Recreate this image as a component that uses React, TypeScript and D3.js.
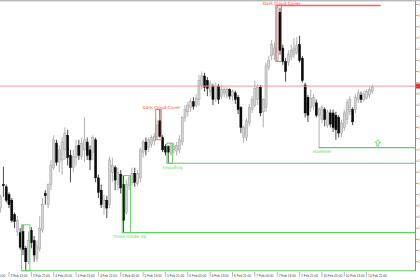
import React from "react";
import * as d3 from "d3";

const opens = [
  108.38, 108.59, 108.57, 108.50, 108.45, 108.32, 108.17, 108.16, 108.17, 108.02,
  107.90, 108.18, 108.09, 107.93, 108.02, 108.18, 108.51, 108.41, 108.59, 108.74,
  108.96, 108.79, 108.81, 108.90, 109.03, 108.85, 108.74, 108.83, 108.94, 108.84,
  108.90, 108.97, 108.90, 108.88, 108.99, 108.65, 108.54, 108.39, 108.45, 108.41,
  108.70, 108.74, 108.59, 108.68, 108.59, 108.34, 108.58, 108.61, 108.69, 108.60,
  108.65, 108.88, 108.97, 108.92, 108.95, 108.98, 109.01, 109.16, 109.01, 108.93,
  108.93, 108.87, 108.90, 108.89, 108.90, 108.97, 109.19, 109.24, 109.28, 109.33,
  109.30, 109.35, 109.48, 109.56, 109.52, 109.42, 109.47, 109.36, 109.47, 109.38,
  109.41, 109.39, 109.44, 109.38, 109.41, 109.37, 109.28, 109.01, 109.01, 109.14,
  109.26, 109.30, 109.35, 109.46, 109.24, 109.28, 109.64, 109.74, 109.75, 109.70,
  110.13, 109.81, 109.69, 109.68, 109.73, 109.75, 109.77, 109.84, 109.72, 109.48,
  109.37, 109.28, 109.29, 109.32, 109.21, 109.17, 109.26, 109.12, 109.23, 109.23,
  109.21, 109.19, 109.05, 109.10, 109.17, 109.24, 109.26, 109.26, 109.35, 109.39,
  109.35, 109.36, 109.39, 109.42,
];
const highs = [
  108.50, 108.75, 108.59, 108.52, 108.47, 108.34, 108.31, 108.20, 108.23, 108.04,
  108.17, 108.21, 108.13, 108.09, 108.31, 108.47, 108.54, 108.60, 108.81, 109.03,
  108.99, 108.94, 109.01, 109.10, 109.08, 108.90, 108.90, 108.99, 108.99, 109.01,
  109.19, 109.01, 108.94, 109.03, 109.01, 108.68, 108.59, 108.50, 108.49, 108.84,
  108.83, 108.76, 108.74, 108.72, 108.67, 108.63, 108.67, 108.74, 108.74, 108.72,
  108.92, 108.99, 109.01, 109.01, 109.03, 109.05, 109.17, 109.26, 109.03, 108.95,
  108.94, 108.96, 108.96, 108.97, 109.03, 109.20, 109.30, 109.33, 109.36, 109.37,
  109.40, 109.57, 109.60, 109.59, 109.55, 109.52, 109.49, 109.50, 109.49, 109.48,
  109.46, 109.46, 109.45, 109.44, 109.43, 109.39, 109.29, 109.12, 109.18, 109.31,
  109.38, 109.52, 109.49, 109.48, 109.36, 109.68, 109.74, 109.88, 109.86, 110.19,
  110.17, 109.84, 109.72, 109.79, 109.84, 109.90, 109.91, 109.92, 109.74, 109.50,
  109.39, 109.44, 109.40, 109.35, 109.28, 109.30, 109.28, 109.26, 109.26, 109.26,
  109.24, 109.21, 109.17, 109.26, 109.35, 109.38, 109.28, 109.40, 109.44, 109.42,
  109.43, 109.44, 109.46, 109.48,
];
const lows = [
  108.34, 108.48, 108.43, 108.38, 108.25, 108.20, 108.13, 108.01, 107.96, 107.82,
  107.88, 108.02, 107.90, 107.90, 107.99, 108.16, 108.41, 108.38, 108.54, 108.72,
  108.76, 108.70, 108.68, 108.81, 108.76, 108.61, 108.70, 108.76, 108.81, 108.81,
  108.79, 108.81, 108.72, 108.81, 108.61, 108.47, 108.38, 108.32, 108.29, 108.38,
  108.61, 108.54, 108.54, 108.51, 108.16, 108.32, 108.54, 108.58, 108.57, 108.58,
  108.61, 108.83, 108.85, 108.88, 108.92, 108.94, 108.99, 109.01, 108.88, 108.85,
  108.78, 108.85, 108.87, 108.85, 108.87, 108.94, 109.15, 109.20, 109.24, 109.26,
  109.28, 109.29, 109.44, 109.42, 109.38, 109.38, 109.30, 109.33, 109.31, 109.35,
  109.37, 109.36, 109.35, 109.34, 109.31, 109.22, 109.05, 108.96, 108.98, 109.11,
  109.23, 109.28, 109.30, 109.20, 109.10, 109.24, 109.61, 109.70, 109.70, 109.69,
  109.75, 109.66, 109.51, 109.65, 109.70, 109.72, 109.75, 109.68, 109.50, 109.19,
  109.15, 109.24, 109.26, 109.19, 108.92, 109.14, 109.11, 109.10, 109.10, 109.06,
  108.99, 109.01, 109.01, 109.07, 109.13, 109.21, 109.12, 109.23, 109.32, 109.32,
  109.33, 109.35, 109.36, 109.40,
];
const closes = [
  108.48, 108.58, 108.45, 108.41, 108.27, 108.26, 108.27, 108.03, 108.01, 107.90,
  108.09, 108.07, 107.96, 108.04, 108.20, 108.41, 108.49, 108.59, 108.76, 108.99,
  108.79, 108.90, 108.97, 109.05, 108.83, 108.74, 108.84, 108.93, 108.85, 108.96,
  108.99, 108.85, 108.81, 109.01, 108.65, 108.52, 108.41, 108.45, 108.38, 108.81,
  108.76, 108.63, 108.70, 108.56, 108.27, 108.59, 108.65, 108.69, 108.61, 108.69,
  108.90, 108.97, 108.90, 108.99, 109.01, 109.02, 109.12, 109.02, 108.90, 108.88,
  108.88, 108.96, 108.93, 108.94, 108.99, 109.19, 109.26, 109.30, 109.33, 109.29,
  109.36, 109.52, 109.56, 109.46, 109.45, 109.49, 109.35, 109.47, 109.35, 109.44,
  109.44, 109.44, 109.38, 109.42, 109.35, 109.26, 109.10, 109.10, 109.16, 109.28,
  109.35, 109.45, 109.46, 109.23, 109.35, 109.65, 109.70, 109.84, 109.81, 110.17,
  109.79, 109.69, 109.60, 109.75, 109.79, 109.81, 109.83, 109.70, 109.52, 109.23,
  109.21, 109.36, 109.37, 109.21, 109.26, 109.28, 109.17, 109.24, 109.13, 109.10,
  109.08, 109.05, 109.14, 109.23, 109.32, 109.35, 109.15, 109.37, 109.41, 109.35,
  109.40, 109.42, 109.44, 109.46,
];

const timeLabelBars = [-5, 3, 11, 19, 27, 35, 43, 51, 59, 67, 75, 83, 91, 99, 107, 115, 123, 131];
const timeLabels = [
  "3 Feb 05:00", "3 Feb 13:00", "3 Feb 21:00", "4 Feb 05:00", "4 Feb 13:00", "4 Feb 21:00",
  "5 Feb 05:00", "5 Feb 13:00", "5 Feb 21:00", "6 Feb 05:00", "6 Feb 13:00", "6 Feb 21:00",
  "7 Feb 05:00", "7 Feb 13:00", "7 Feb 21:00", "10 Feb 05:00", "10 Feb 13:00", "10 Feb 21:00",
];
const priceTicks = [
  107.9, 108.0, 108.1, 108.2, 108.3, 108.4, 108.5, 108.6, 108.7, 108.8, 108.9, 109.0,
  109.1, 109.2, 109.3, 109.4, 109.5, 109.6, 109.7, 109.8, 109.9, 110.0, 110.1, 110.2,
];
const bidPrice = 109.47;

const patternNames = ["", "Three Inside Up", "Dark Cloud Cover", "Engulfing", "Dark Cloud Cover", "Hammer"];
const patternStart = [8, 44, 56, 60, 99, 114];
const patternEnd = [10, 46, 57, 61, 100, 114];
const patternBullish = [true, true, false, true, false, true];
const patternHasBox = [true, true, true, true, true, false];
const patternLineTo = ["edge", "edge", "none", "edge", 136, "edge"];

const W = 420;
const H = 280;
const plotRight = 415.5;
const plotTop = 1;
const plotBottom = 271;

export default function App() {
  const n = opens.length;
  const x = d3.scaleLinear().domain([0, n - 1]).range([0.62, 372.2]);
  const y = d3.scaleLinear().domain([107.8175, 110.2304]).range([plotBottom, plotTop]);
  const bodyW = 2.1;

  const bullColor = "#5fcf5f";
  const bullText = "#62d862";
  const bearColor = "#ff5c5c";
  const bearText = "#ff4848";

  const candles = d3.range(n).map((i) => {
    const up = closes[i] >= opens[i];
    const cx = x(i);
    const yo = y(opens[i]);
    const yc = y(closes[i]);
    const top = Math.min(yo, yc);
    const h = Math.max(0.9, Math.abs(yo - yc));
    return (
      <g key={i}>
        <line x1={cx} x2={cx} y1={y(highs[i])} y2={y(lows[i])} stroke={up ? "#9c9c9c" : "#1a1a1a"} strokeWidth={0.8} />
        <rect x={cx - bodyW / 2} y={top} width={bodyW} height={h} fill={up ? "#d2d2d2" : "#0a0a0a"} stroke={up ? "#999" : "#000"} strokeWidth={0.45} />
      </g>
    );
  });

  const patterns = patternNames.map((name, k) => {
    const s = patternStart[k];
    const e = patternEnd[k];
    const bull = patternBullish[k];
    const col = bull ? bullColor : bearColor;
    const tcol = bull ? bullText : bearText;
    const hi = d3.max(d3.range(s, e + 1), (i) => highs[i]) as number;
    const lo = d3.min(d3.range(s, e + 1), (i) => lows[i]) as number;
    const x0 = x(s) - bodyW / 2 - 0.3;
    const x1 = x(e) + bodyW / 2 + 0.3;
    const yHi = y(hi);
    const yLo = y(lo);
    const lvl = bull ? yLo : yHi;
    const lt = patternLineTo[k];
    let lineEl = null;
    if (lt !== "none") {
      const xe = lt === "edge" ? plotRight : x(lt as number);
      lineEl = (
        <line x1={patternHasBox[k] ? x0 : x(s) - 0.5} x2={xe} y1={lvl} y2={lvl} stroke={col} strokeWidth={bull ? 1.1 : 1.6} />
      );
    }
    const cxl = (x0 + x1) / 2 + 3;
    const ty = bull ? yLo + 5.6 : yHi - 1;
    return (
      <g key={"p" + k}>
        {patternHasBox[k] && (
          <rect x={x0} y={yHi} width={x1 - x0} height={yLo - yHi} fill="none" stroke={col} strokeWidth={0.9} />
        )}
        {lineEl}
        {name && (
          <text x={cxl} y={ty} textAnchor="middle" fontSize={4.3} fontFamily="DejaVu Sans, Verdana, sans-serif" fill={tcol}>
            {name}
          </text>
        )}
      </g>
    );
  });

  const hammerIdx = patternNames.lastIndexOf("Hammer");
  const ax = x(n + 1);
  const ay = y(lows[patternStart[hammerIdx]]) - 8;
  const arrowPath = `M${ax},${ay} L${ax + 2.6},${ay + 3} L${ax + 1},${ay + 3} L${ax + 1},${ay + 6.5} L${ax - 1},${ay + 6.5} L${ax - 1},${ay + 3} L${ax - 2.6},${ay + 3} Z`;

  const yBid = y(bidPrice);

  return (
    <svg width={W} height={H} style={{ position: "absolute", left: 0, top: 0, background: "#fff" }}>
      <rect x={0} y={0} width={W} height={H} fill="#fff" />
      <rect x={0} y={0} width={W} height={1.4} fill="#b8b8b8" />
      {candles}
      <line x1={0} x2={plotRight} y1={yBid} y2={yBid} stroke="#f39a9a" strokeWidth={1} />
      {patterns}
      <path d={arrowPath} fill="#fff" stroke={bullColor} strokeWidth={0.8} />
      <line x1={plotRight} x2={plotRight} y1={plotTop} y2={plotBottom} stroke="#8c8c8c" strokeWidth={1} />
      {priceTicks.map((p) => (
        <g key={"t" + p}>
          <line x1={plotRight} x2={plotRight + 3} y1={y(p)} y2={y(p)} stroke="#8c8c8c" strokeWidth={0.8} />
          <text x={plotRight + 3.5} y={y(p) + 1.2} fontSize={3.5} fontFamily="Liberation Sans, Arial, sans-serif" fill="#555">
            {p.toFixed(2)}
          </text>
        </g>
      ))}
      <rect x={plotRight + 0.5} y={yBid - 2.5} width={5} height={5} fill="#e8343c" />
      {timeLabelBars.map((b, k) => (
        <g key={"b" + k}>
          <line x1={x(b)} x2={x(b)} y1={272} y2={276.8} stroke="#8a8a8a" strokeWidth={0.6} />
          <text x={x(b) + 1.5} y={277.2} fontSize={3.2} fontFamily="Liberation Sans, Arial, sans-serif" fill="#444">
            {timeLabels[k]}
          </text>
        </g>
      ))}
    </svg>
  );
}
